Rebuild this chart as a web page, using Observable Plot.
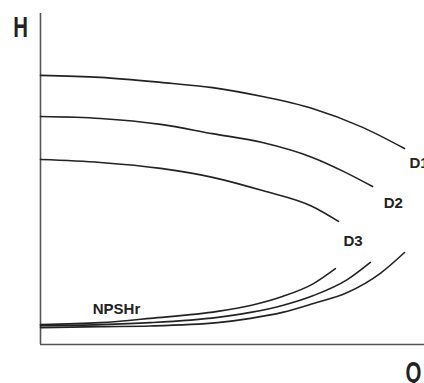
<!DOCTYPE html>
<html><head><meta charset="utf-8">
<script src="https://cdn.jsdelivr.net/npm/d3@7"></script>
<script src="https://cdn.jsdelivr.net/npm/@observablehq/plot@0.6"></script>
<style>body{margin:0;background:#fff}</style>
</head><body><div id="chart"></div>
<script>
// Head curves H(Q) for three impeller diameters
const d1Flow = [0, 15.6, 31.3, 44.8, 57.8, 70.8, 83.9, 94.8];
const d1Head = [81.3, 80.7, 79.2, 77.6, 74.9, 71.3, 65.6, 59.2];
const d2Flow = [0, 15.6, 31.3, 44.8, 57.8, 70.8, 79.4, 86.5];
const d2Head = [68.9, 68.3, 66.5, 63.7, 61.0, 56.5, 52.0, 47.7];
const d3Flow = [0, 15.6, 31.3, 44.8, 57.8, 70.8, 77.6];
const d3Head = [55.9, 55.0, 53.2, 50.5, 46.5, 41.7, 37.2];
// NPSHr curves
const n1Flow = [0, 15.6, 28.6, 46.1, 54.7, 63.0, 71.1, 79.9, 88.5, 94.8];
const n1Req  = [5.1, 5.4, 5.6, 6.6, 7.9, 9.7, 12.4, 15.7, 21.5, 27.8];
const n2Flow = [0, 15.6, 28.6, 46.1, 54.7, 63.0, 71.1, 79.9, 85.9];
const n2Req  = [5.7, 6.0, 6.6, 8.2, 9.7, 11.8, 14.8, 19.6, 24.8];
const n3Flow = [0, 15.6, 28.6, 46.1, 54.7, 63.0, 71.1, 76.8];
const n3Req  = [6.0, 6.6, 7.9, 10.0, 11.8, 14.5, 18.4, 22.9];
const curveNames = ["D1", "D2", "D3"];
const npshLabel = "NPSHr";
const axisNames = ["H", "Q"];

const heads = [[d1Flow, d1Head], [d2Flow, d2Head], [d3Flow, d3Head]];
const npshs = [[n1Flow, n1Req], [n2Flow, n2Req], [n3Flow, n3Req]];
const headRows = heads.flatMap(([q, h], i) => q.map((v, j) => ({curve: curveNames[i], q: v, h: h[j]})));
const npshRows = npshs.flatMap(([q, h], i) => q.map((v, j) => ({curve: "N" + curveNames[i], q: v, h: h[j]})));
const ends = heads.map(([q, h], i) => ({name: curveNames[i], q: q[q.length - 1], h: h[h.length - 1]}));

const ink = "#222";
const font = "Liberation Sans, Arial, sans-serif";
const labelOffsets = [[5, 15], [11, 17], [5, 20]]; // label placement relative to curve end (px)
const chart = Plot.plot({
  width: 424, height: 383,
  marginLeft: 40, marginRight: 0, marginTop: 13, marginBottom: 39,
  style: {background: "white"},
  x: {domain: [0, 100], axis: null},
  y: {domain: [0, 100], axis: null},
  marks: [
    Plot.ruleX([0], {stroke: "#555", strokeWidth: 1.6}),
    Plot.ruleY([0], {stroke: "#555", strokeWidth: 1.6}),
    Plot.line(headRows, {x: "q", y: "h", z: "curve", curve: "monotone-x", stroke: ink, strokeWidth: 1.6}),
    Plot.line(npshRows, {x: "q", y: "h", z: "curve", curve: "monotone-x", stroke: ink, strokeWidth: 1.6}),
    ...ends.map((e, i) => Plot.text([e], {x: "q", y: "h", text: "name", textAnchor: "start",
      dx: labelOffsets[i][0], dy: labelOffsets[i][1],
      fontSize: 15, fontWeight: 600, fill: ink, fontFamily: font})),
    Plot.text([npshLabel], {x: 19.8, y: 10.6, text: d => d, fontSize: 15, fontWeight: "bold",
      fill: ink, fontFamily: font}),
    Plot.text([axisNames[0]], {x: -5.2, y: 95.8, text: d => d, fontSize: 30, fontWeight: "bold",
      fill: ink, fontFamily: font, className: "axis-letter"}),
    Plot.text([axisNames[1]], {x: 97.1, y: -8.3, text: d => d, fontSize: 30, fontWeight: "bold",
      fill: ink, fontFamily: font, className: "axis-letter"})
  ]
});
document.getElementById("chart").appendChild(chart);
// condense the big axis letters horizontally around their own centres
d3.select(chart).selectAll(".axis-letter text").each(function () {
  const b = this.getBBox();
  const cx = b.x + b.width / 2;
  const t = this.getAttribute("transform") || "";
  this.setAttribute("transform", `${t} translate(${cx},0) scale(0.68,1) translate(${-cx},0)`);
});
</script>
</body></html>
